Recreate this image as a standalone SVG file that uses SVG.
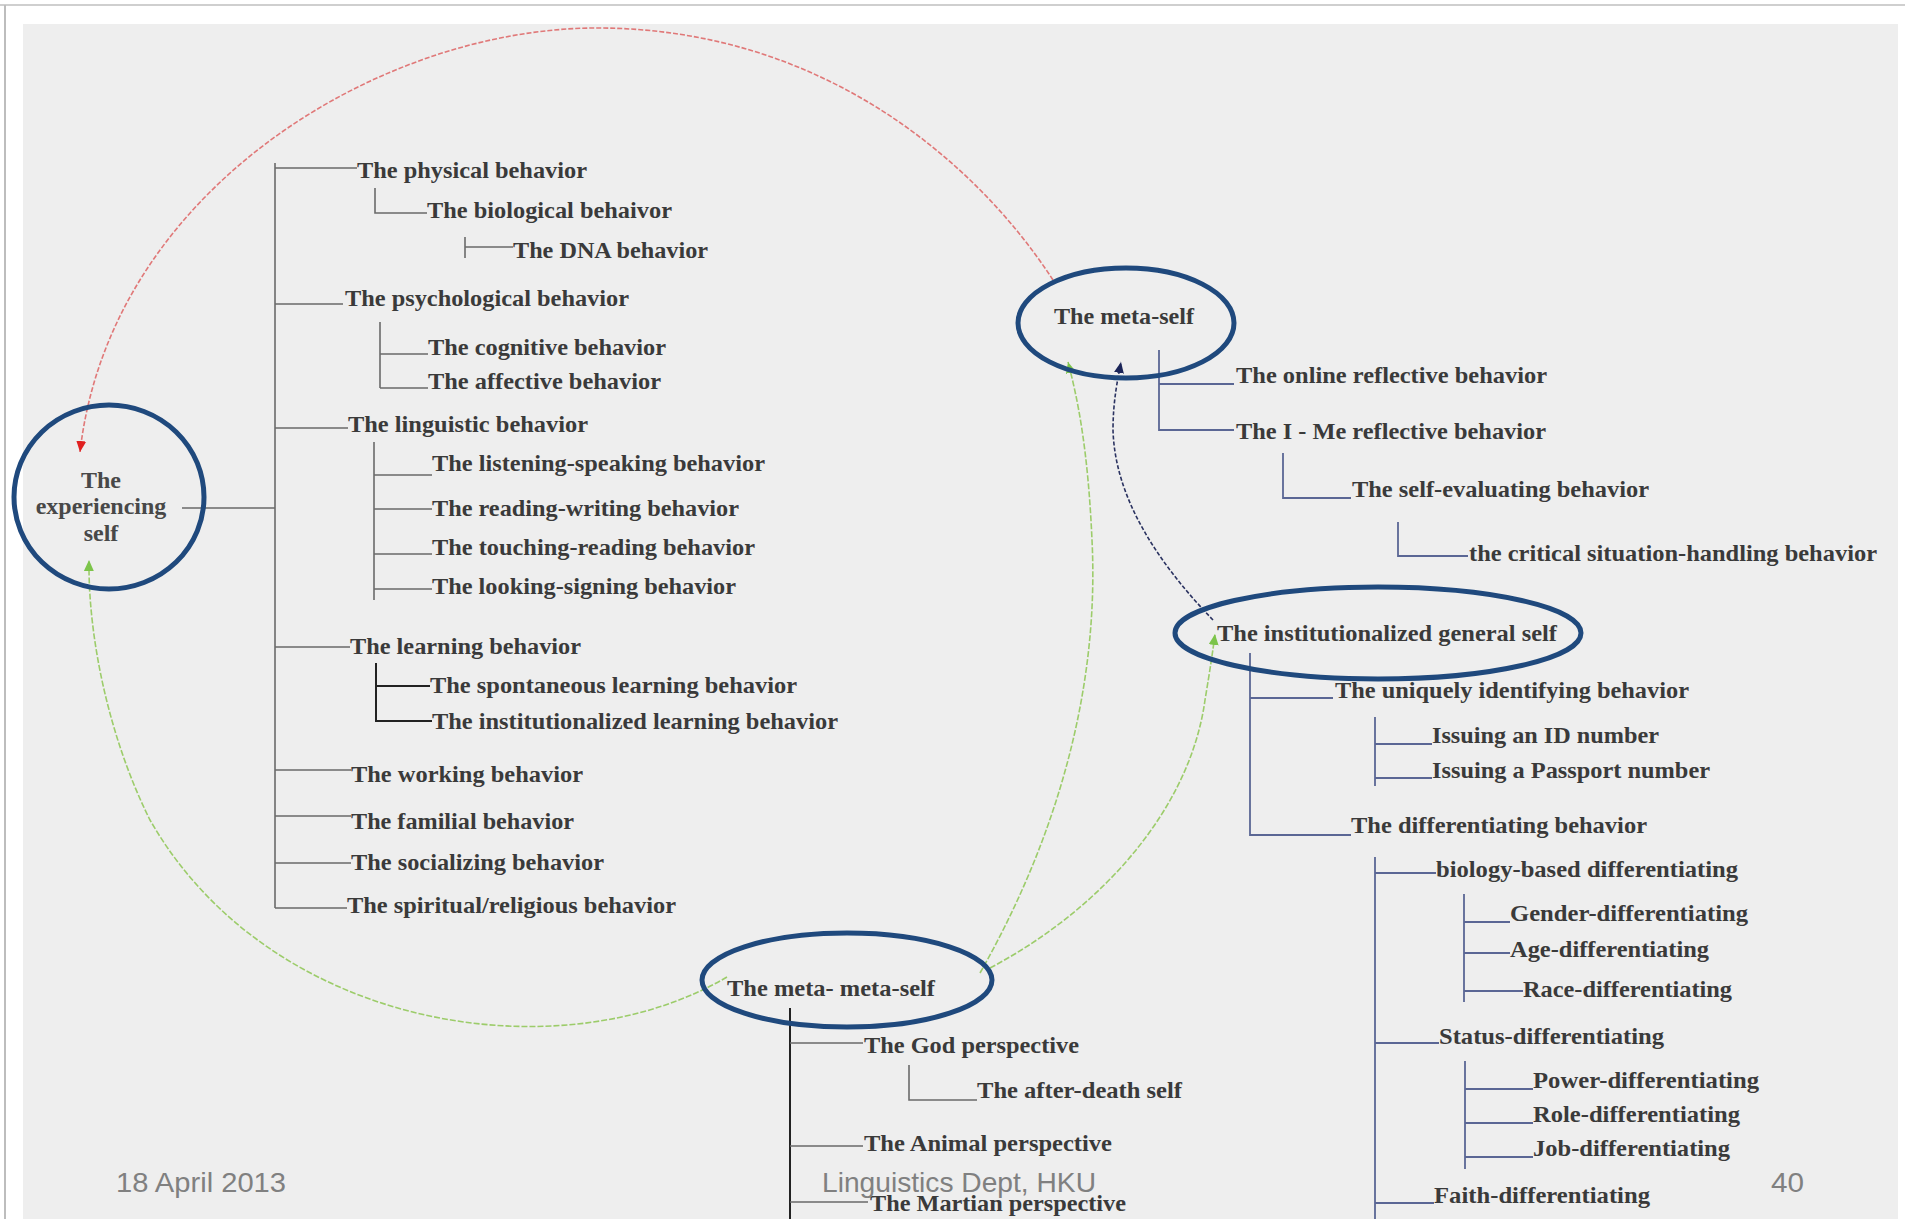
<svg xmlns="http://www.w3.org/2000/svg" width="1905" height="1219" viewBox="0 0 1905 1219">
<defs>
<style>
.t{font-family:"Liberation Serif","Times New Roman",serif;font-weight:bold;font-size:24px;fill:#3a3a3a}
.tc{font-family:"Liberation Serif","Times New Roman",serif;font-weight:bold;font-size:24px;fill:#484848;text-anchor:middle}
.ft{font-family:"Liberation Sans",Arial,sans-serif;font-size:28px;fill:#808080}
.node{fill:none;stroke:#1f497d;stroke-width:5}
.lt{stroke:#6a6a6a;stroke-width:1.6;fill:none}
.lk{stroke:#222;stroke-width:2;fill:none}
.lb{stroke:#5a6694;stroke-width:1.8;fill:none}
.red{stroke:#e07878;stroke-width:1.6;fill:none;stroke-dasharray:5 2}
.grn{stroke:#9ccc6a;stroke-width:1.6;fill:none;stroke-dasharray:6 2}
.nav{stroke:#2a3260;stroke-width:1.6;fill:none;stroke-dasharray:4 2}
</style>
<marker id="arR" markerWidth="12" markerHeight="10" refX="11" refY="5" orient="auto" markerUnits="userSpaceOnUse"><path d="M0,0 L11,5 L0,10 Z" fill="#e02020"/></marker>
<marker id="arG" markerWidth="12" markerHeight="10" refX="11" refY="5" orient="auto" markerUnits="userSpaceOnUse"><path d="M0,0 L11,5 L0,10 Z" fill="#7cc44a"/></marker>
<marker id="arN" markerWidth="12" markerHeight="10" refX="11" refY="5" orient="auto" markerUnits="userSpaceOnUse"><path d="M0,0 L11,5 L0,10 Z" fill="#1a2458"/></marker>
</defs>
<rect x="0" y="0" width="1905" height="1219" fill="#ffffff"/>
<line x1="0" y1="5" x2="1905" y2="5" stroke="#cfcfcf" stroke-width="2"/>
<line x1="5" y1="5" x2="5" y2="1219" stroke="#bdbdbd" stroke-width="2"/>
<rect x="23" y="24" width="1875" height="1200" fill="#eeeeee"/>

<g id="connectors">
<path class="red" d="M1053,280 C975,160 820,28 597,28 C380,28 110,190 80,452" marker-end="url(#arR)"/>
<path class="grn" d="M727,977 C560,1075 270,1030 150,820 C110,740 88,640 89,560" marker-end="url(#arG)"/>
<path class="grn" d="M980,973 C1050,850 1100,700 1092,540 C1088,450 1078,400 1068,362" marker-end="url(#arG)"/>
<path class="grn" d="M990,968 C1100,910 1190,810 1205,700 C1210,670 1213,650 1215,634" marker-end="url(#arG)"/>
<path class="nav" d="M1213,620 C1160,565 1115,500 1113,430 C1113,400 1118,378 1121,362" marker-end="url(#arN)"/>
</g>

<g id="tree-experiencing">
<path class="lt" d="M182,508 H275 M275,163 V908 M275,168 H357 M275,304 H343 M275,428 H348 M275,647 H350 M275,770 H351 M275,816 H351 M275,863 H351 M275,908 H347"/>
<path class="lt" d="M375,188 V213 H427 M465,237 V258 M465,247 H513"/>
<path class="lt" d="M380,322 V388 M380,354 H428 M380,388 H428"/>
<path class="lt" d="M374,442 V600 M374,475 H432 M374,509 H432 M374,554 H432 M374,589 H432"/>
<path class="lk" d="M376,663 V721 H432 M376,686 H430"/>
</g>

<g id="n-experiencing">
<ellipse class="node" cx="109" cy="497" rx="95" ry="92"/>
<text class="tc" x="101" y="488">The</text>
<text class="tc" x="101" y="514">experiencing</text>
<text class="tc" x="101" y="541">self</text>
</g>
<g id="n-physical"><text class="t" x="357" y="178" textLength="230" lengthAdjust="spacingAndGlyphs">The physical behavior</text></g>
<g id="n-biological"><text class="t" x="427" y="218" textLength="245" lengthAdjust="spacingAndGlyphs">The biological behaivor</text></g>
<g id="n-dna"><text class="t" x="513" y="258" textLength="195" lengthAdjust="spacingAndGlyphs">The DNA behavior</text></g>
<g id="n-psychological"><text class="t" x="345" y="306" textLength="284" lengthAdjust="spacingAndGlyphs">The psychological behavior</text></g>
<g id="n-cognitive"><text class="t" x="428" y="355" textLength="238" lengthAdjust="spacingAndGlyphs">The cognitive behavior</text></g>
<g id="n-affective"><text class="t" x="428" y="389" textLength="233" lengthAdjust="spacingAndGlyphs">The affective behavior</text></g>
<g id="n-linguistic"><text class="t" x="348" y="432" textLength="240" lengthAdjust="spacingAndGlyphs">The linguistic behavior</text></g>
<g id="n-listening"><text class="t" x="432" y="471" textLength="333" lengthAdjust="spacingAndGlyphs">The listening-speaking behavior</text></g>
<g id="n-reading"><text class="t" x="432" y="516" textLength="307" lengthAdjust="spacingAndGlyphs">The reading-writing behavior</text></g>
<g id="n-touching"><text class="t" x="432" y="555" textLength="323" lengthAdjust="spacingAndGlyphs">The touching-reading behavior</text></g>
<g id="n-looking"><text class="t" x="432" y="594" textLength="304" lengthAdjust="spacingAndGlyphs">The looking-signing behavior</text></g>
<g id="n-learning"><text class="t" x="350" y="654" textLength="231" lengthAdjust="spacingAndGlyphs">The learning behavior</text></g>
<g id="n-spontaneous"><text class="t" x="430" y="693" textLength="367" lengthAdjust="spacingAndGlyphs">The spontaneous learning behavior</text></g>
<g id="n-instlearning"><text class="t" x="432" y="729" textLength="406" lengthAdjust="spacingAndGlyphs">The institutionalized learning behavior</text></g>
<g id="n-working"><text class="t" x="351" y="782" textLength="232" lengthAdjust="spacingAndGlyphs">The working behavior</text></g>
<g id="n-familial"><text class="t" x="351" y="829" textLength="223" lengthAdjust="spacingAndGlyphs">The familial behavior</text></g>
<g id="n-socializing"><text class="t" x="351" y="870" textLength="253" lengthAdjust="spacingAndGlyphs">The socializing behavior</text></g>
<g id="n-spiritual"><text class="t" x="347" y="913" textLength="329" lengthAdjust="spacingAndGlyphs">The spiritual/religious behavior</text></g>

<g id="tree-meta">
<path class="lb" d="M1159,350 V430 H1234 M1159,384 H1234 M1283,453 V498 H1351 M1398,522 V556 H1468"/>
</g>
<g id="n-meta">
<ellipse class="node" cx="1126" cy="323" rx="108" ry="55"/>
<text class="t" x="1054" y="324" textLength="140" lengthAdjust="spacingAndGlyphs">The meta-self</text>
</g>
<g id="n-online"><text class="t" x="1236" y="383" textLength="311" lengthAdjust="spacingAndGlyphs">The online reflective behavior</text></g>
<g id="n-ime"><text class="t" x="1236" y="439" textLength="310" lengthAdjust="spacingAndGlyphs">The I - Me reflective behavior</text></g>
<g id="n-selfeval"><text class="t" x="1352" y="497" textLength="297" lengthAdjust="spacingAndGlyphs">The self-evaluating behavior</text></g>
<g id="n-critical"><text class="t" x="1469" y="561" textLength="408" lengthAdjust="spacingAndGlyphs">the critical situation-handling behavior</text></g>

<g id="tree-institutional">
<path class="lb" d="M1250,653 V835 H1351 M1250,698 H1333 M1375,717 V786 M1375,744 H1432 M1375,778 H1432"/>
<path class="lb" d="M1375,857 V1219 M1375,873 H1436 M1375,1043 H1439 M1375,1203 H1434"/>
<path class="lb" d="M1464,894 V1002 M1464,922 H1510 M1464,953 H1510 M1464,991 H1523"/>
<path class="lb" d="M1465,1061 V1169 M1465,1089 H1533 M1465,1123 H1533 M1465,1157 H1533"/>
</g>
<g id="n-institutional">
<ellipse class="node" cx="1378" cy="633" rx="203" ry="46"/>
<text class="t" x="1217" y="641" textLength="340" lengthAdjust="spacingAndGlyphs">The institutionalized general self</text>
</g>
<g id="n-uniquely"><text class="t" x="1335" y="698" textLength="354" lengthAdjust="spacingAndGlyphs">The uniquely identifying behavior</text></g>
<g id="n-id"><text class="t" x="1432" y="743" textLength="227" lengthAdjust="spacingAndGlyphs">Issuing an ID number</text></g>
<g id="n-passport"><text class="t" x="1432" y="778" textLength="278" lengthAdjust="spacingAndGlyphs">Issuing a Passport number</text></g>
<g id="n-differentiating"><text class="t" x="1351" y="833" textLength="296" lengthAdjust="spacingAndGlyphs">The differentiating behavior</text></g>
<g id="n-biology"><text class="t" x="1436" y="877" textLength="302" lengthAdjust="spacingAndGlyphs">biology-based differentiating</text></g>
<g id="n-gender"><text class="t" x="1510" y="921" textLength="238" lengthAdjust="spacingAndGlyphs">Gender-differentiating</text></g>
<g id="n-age"><text class="t" x="1510" y="957" textLength="199" lengthAdjust="spacingAndGlyphs">Age-differentiating</text></g>
<g id="n-race"><text class="t" x="1523" y="997" textLength="209" lengthAdjust="spacingAndGlyphs">Race-differentiating</text></g>
<g id="n-status"><text class="t" x="1439" y="1044" textLength="225" lengthAdjust="spacingAndGlyphs">Status-differentiating</text></g>
<g id="n-power"><text class="t" x="1533" y="1088" textLength="226" lengthAdjust="spacingAndGlyphs">Power-differentiating</text></g>
<g id="n-role"><text class="t" x="1533" y="1122" textLength="207" lengthAdjust="spacingAndGlyphs">Role-differentiating</text></g>
<g id="n-job"><text class="t" x="1533" y="1156" textLength="197" lengthAdjust="spacingAndGlyphs">Job-differentiating</text></g>
<g id="n-faith"><text class="t" x="1434" y="1203" textLength="216" lengthAdjust="spacingAndGlyphs">Faith-differentiating</text></g>

<g id="tree-metameta">
<path class="lk" d="M790,1008 V1219"/>
<path class="lt" d="M790,1043 H863 M909,1065 V1100 H977 M790,1146 H863 M790,1202 H868"/>
</g>
<g id="n-metameta">
<ellipse class="node" cx="847" cy="980" rx="145" ry="47"/>
<text class="t" x="727" y="996" textLength="208" lengthAdjust="spacingAndGlyphs">The meta- meta-self</text>
</g>
<g id="n-god"><text class="t" x="864" y="1053" textLength="215" lengthAdjust="spacingAndGlyphs">The God perspective</text></g>
<g id="n-afterdeath"><text class="t" x="977" y="1098" textLength="205" lengthAdjust="spacingAndGlyphs">The after-death self</text></g>
<g id="n-animal"><text class="t" x="864" y="1151" textLength="248" lengthAdjust="spacingAndGlyphs">The Animal perspective</text></g>
<g id="n-martian"><text class="t" x="870" y="1211" textLength="256" lengthAdjust="spacingAndGlyphs">The Martian perspective</text></g>

<g id="footer">
<text class="ft" x="116" y="1192" textLength="170" lengthAdjust="spacingAndGlyphs">18 April 2013</text>
<text class="ft" x="822" y="1192" textLength="274" lengthAdjust="spacingAndGlyphs">Linguistics Dept, HKU</text>
<text class="ft" x="1771" y="1192" textLength="33" lengthAdjust="spacingAndGlyphs">40</text>
</g>
</svg>
